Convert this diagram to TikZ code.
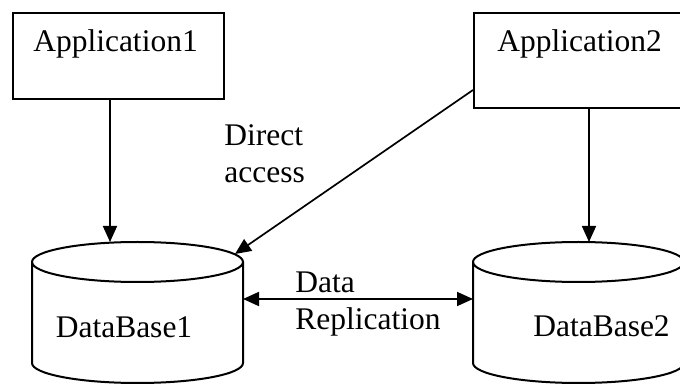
\documentclass[tikz,border=0pt]{standalone}
\usepackage{fontspec}
\setmainfont{Liberation Serif}
\usetikzlibrary{arrows.meta,positioning}
\tikzset{
  appbox/.style={draw,line width=1pt,inner sep=0pt,anchor=north west},
  dbline/.style={line width=1pt},
  lbl/.style={font=\fontsize{15.75}{18.5}\selectfont,inner sep=0pt},
  flow/.style={-{Triangle[length=8pt,width=7pt]},line width=0.85pt},
  sync/.style={{Triangle[length=8pt,width=7pt]}-{Triangle[length=8pt,width=7pt]},line width=0.85pt},
}

\begin{document}
\begin{tikzpicture}[x=0.5pt,y=-0.5pt]
  \useasboundingbox (0,0) rectangle (680,384);
  \clip (0,0) rectangle (680,384);

  % the two applications
  \node[appbox,minimum width=105.5pt,minimum height=43pt] (app1) at (12,12) {};
  \node[appbox,minimum width=105.5pt,minimum height=47.5pt] (app2) at (473,12) {};
  \node[lbl,anchor=base] (app1txt) at (115.5,52) {Application1};
  \node[lbl,anchor=base] (app2txt) at (579.5,52) {Application2};

  % database cylinders
  \draw[dbline] (32,262) -- (32,363) arc[start angle=180,end angle=0,x radius=105.5,y radius=20] -- (243,262);
  \draw[dbline] (137.5,262) ellipse[x radius=105.5,y radius=20];
  \draw[dbline] (473,262) -- (473,363) arc[start angle=180,end angle=0,x radius=105.5,y radius=20] -- (684,262);
  \draw[dbline] (578.5,262) ellipse[x radius=105.5,y radius=20];
  \node[lbl,anchor=base] (db1) at (124,338) {DataBase1};
  \node[lbl,anchor=base] (db2) at (601.5,337) {DataBase2};

  % where the connectors meet the cylinders
  \coordinate (db1top) at (110,242);
  \coordinate (db1rim) at (235,254);
  \coordinate (db1side) at (243,299);
  \coordinate (db2top) at (589,242);
  \coordinate (db2side) at (473,299);
  \coordinate (app2out) at (473,90);

  \draw[flow] (app1.south -| db1top) -- (db1top);
  \draw[flow] (app2.south -| db2top) -- (db2top);
  \draw[flow] (app2out) -- (db1rim);
  \draw[sync] (db1side) -- (db2side);

  % two-line labels, placed on the baseline of their last line
  \node[lbl,align=left,anchor=base west] (direct) at (224,183) {Direct\\access};
  \node[lbl,align=left,anchor=base west] (repl) at (295,330) {Data\\Replication};
\end{tikzpicture}
\end{document}
